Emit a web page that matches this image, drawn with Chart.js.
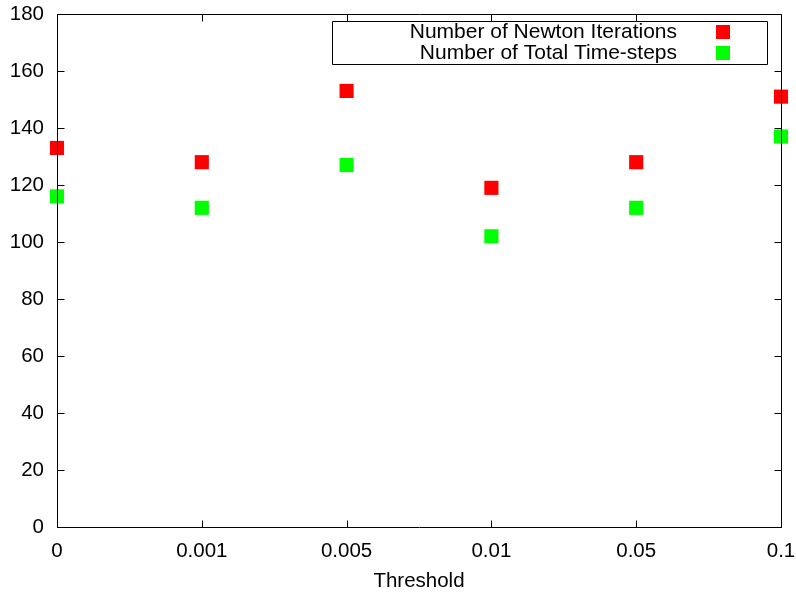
<!DOCTYPE html>
<html>
<head>
<meta charset="utf-8">
<script src="https://cdn.jsdelivr.net/npm/chart.js@4/dist/chart.umd.min.js"></script>
<style>
html,body{margin:0;padding:0;background:#fff;}
#wrap{width:796px;height:594px;}
</style>
</head>
<body>
<div id="wrap"><canvas id="c" width="796" height="594"></canvas></div>
<script>
const categories = ["0", "0.001", "0.005", "0.01", "0.05", "0.1"];
const newtonIterations = [133, 128, 153, 119, 128, 151];
const totalTimeSteps = [116, 112, 127, 102, 112, 137];
const yTicks = [0, 20, 40, 60, 80, 100, 120, 140, 160, 180];
const seriesLabels = ["Number of Newton Iterations", "Number of Total Time-steps"];
const seriesColors = ["#ff0000", "#00ff00"];
const xTitle = "Threshold";

const FONT = "'Liberation Sans', Arial, sans-serif";
const FS = 20.5;

const framePlugin = {
  id: 'frame',
  afterDatasetsDraw(chart) {
    const ctx = chart.ctx;
    const a = chart.chartArea;
    const xs = chart.scales.x, ys = chart.scales.y;
    ctx.save();
    ctx.strokeStyle = '#000';
    ctx.lineWidth = 1;
    const L = Math.round(a.left) + 0.5, R = Math.round(a.right) + 0.5;
    const T = Math.round(a.top) + 0.5, B = Math.round(a.bottom) + 0.5;
    ctx.beginPath();
    ctx.rect(L, T, R - L, B - T);
    ctx.stroke();
    const tl = 7;
    ctx.beginPath();
    yTicks.forEach(v => {
      const y = Math.round(ys.getPixelForValue(v)) + 0.5;
      ctx.moveTo(L, y); ctx.lineTo(L + tl, y);
      ctx.moveTo(R, y); ctx.lineTo(R - tl, y);
    });
    categories.forEach((c, i) => {
      const x = Math.round(xs.getPixelForValue(i)) + 0.5;
      ctx.moveTo(x, B); ctx.lineTo(x, B - tl);
      ctx.moveTo(x, T); ctx.lineTo(x, T + tl);
    });
    ctx.stroke();

    // key box (gnuplot style)
    const bx = 332.5, by = 21.5, bw = 435, bh = 43;
    ctx.beginPath();
    ctx.rect(bx, by, bw, bh);
    ctx.stroke();
    ctx.font = "21px " + FONT;
    ctx.textAlign = 'right';
    ctx.textBaseline = 'middle';
    const rowsY = [32, 53];
    chart.data.datasets.forEach((ds, i) => {
      ctx.fillStyle = '#000';
      ctx.fillText(ds.label, 677, rowsY[i]);
      ctx.fillStyle = ds.backgroundColor;
      ctx.fillRect(716, rowsY[i] - 7, 14, 14);
    });
    ctx.restore();
  }
};

new Chart(document.getElementById('c'), {
  type: 'line',
  data: {
    labels: categories,
    datasets: [
      { label: seriesLabels[0], data: newtonIterations, showLine: false,
        pointStyle: 'rect', pointRadius: 10, pointHoverRadius: 10, borderWidth: 0,
        backgroundColor: seriesColors[0], borderColor: seriesColors[0], clip: false },
      { label: seriesLabels[1], data: totalTimeSteps, showLine: false,
        pointStyle: 'rect', pointRadius: 10, pointHoverRadius: 10, borderWidth: 0,
        backgroundColor: seriesColors[1], borderColor: seriesColors[1], clip: false }
    ]
  },
  options: {
    responsive: false,
    animation: false,
    events: [],
    layout: { padding: { left: 0, right: 15, top: 14, bottom: 0 } },
    plugins: { legend: { display: false }, tooltip: { enabled: false } },
    scales: {
      x: {
        type: 'category',
        offset: false,
        grid: { display: false, drawTicks: false },
        border: { display: false },
        ticks: { color: '#000', font: { size: FS, family: FONT }, padding: 12, maxRotation: 0, autoSkip: false },
        title: { display: true, text: xTitle, color: '#000', font: { size: FS, family: FONT }, padding: { top: 4, bottom: 0 } },
        afterFit(s) { s.height = 67; s.paddingLeft = 0; s.paddingRight = 0; }
      },
      y: {
        min: 0, max: 180,
        grid: { display: false, drawTicks: false },
        border: { display: false },
        afterBuildTicks(s) { s.ticks = yTicks.map(v => ({ value: v })); },
        ticks: { color: '#000', font: { size: FS, family: FONT }, padding: 13 },
        afterFit(s) { s.width = 57; s.paddingTop = 0; s.paddingBottom = 0; }
      }
    }
  },
  plugins: [framePlugin]
});
</script>
</body>
</html>
